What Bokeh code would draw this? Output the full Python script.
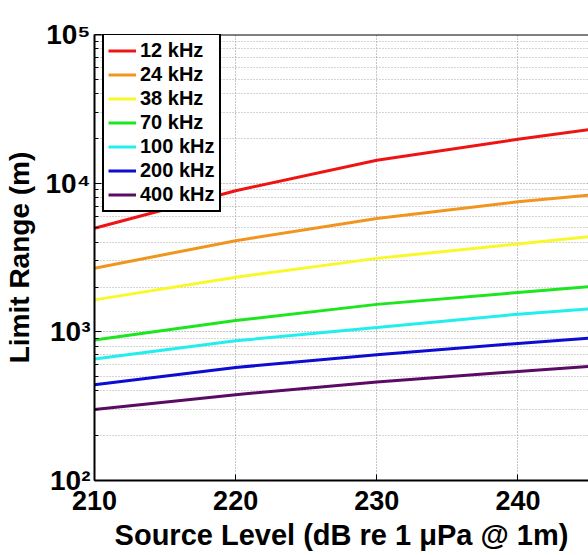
from bokeh.plotting import figure
from bokeh.models import FixedTicker, Legend, LegendItem, Span
from bokeh.embed import file_html
from bokeh.resources import INLINE

# ---- data ----
source_level = [210, 220, 230, 240, 245]
freq_labels = ["12 kHz", "24 kHz", "38 kHz", "70 kHz", "100 kHz", "200 kHz", "400 kHz"]
range_12k = [4970, 8900, 14260, 19720, 22900]
range_24k = [2680, 4100, 5790, 7490, 8310]
range_38k = [1640, 2330, 3120, 3900, 4360]
range_70k = [880, 1190, 1530, 1840, 2010]
range_100k = [656, 870, 1070, 1315, 1426]
range_200k = [441, 576, 701, 835, 907]
range_400k = [300, 378, 460, 541, 585]
series = [range_12k, range_24k, range_38k, range_70k, range_100k, range_200k, range_400k]
colors = ["#ee1414", "#f0961e", "#f8f82a", "#1ee61e", "#22eeee", "#0c0cd2", "#5a0c64"]

x_ticks = [210, 220, 230, 240]
y_ticks = [100, 1000, 10000, 100000]
y_tick_labels = ["10\u00b2", "10\u00b3", "10\u2074", "10\u2075"]
y_minor = [k * 10 ** e for e in (2, 3, 4) for k in range(2, 10)]

FONT = "Liberation Sans"

p = figure(width=588, height=553, x_range=(210, 245), y_range=(100, 1e5),
           y_axis_type="log", output_backend="svg", toolbar_location=None,
           min_border_left=92, min_border_right=0, min_border_top=34,
           min_border_bottom=72)
p.outline_line_color = None
p.background_fill_color = "white"

renderers = []
for vals, c in zip(series, colors):
    r = p.line(source_level, vals, line_color=c, line_width=3)
    renderers.append(r)

# x axis
xa = p.xaxis[0]
xa.ticker = FixedTicker(ticks=x_ticks)
xa.major_label_text_font = FONT
xa.major_label_text_font_style = "bold"
xa.major_label_text_font_size = "27px"
xa.major_label_text_color = "black"
xa.major_label_standoff = 10
xa.axis_label = "Source Level (dB re 1 \u03bcPa @ 1m)"
xa.axis_label_text_font = FONT
xa.axis_label_text_font_style = "bold"
xa.axis_label_text_font_size = "29px"
xa.axis_label_text_color = "black"
xa.axis_label_standoff = 6
xa.axis_line_width = 2
xa.major_tick_in = 6
xa.major_tick_out = 0
xa.minor_tick_line_color = None

# y axis
ya = p.yaxis[0]
ya.ticker = FixedTicker(ticks=y_ticks, minor_ticks=y_minor)
ya.major_label_overrides = {v: s for v, s in zip(y_ticks, y_tick_labels)}
ya.major_label_text_font = FONT
ya.major_label_text_font_style = "bold"
ya.major_label_text_font_size = "28px"
ya.major_label_text_color = "black"
ya.major_label_standoff = 4
ya.axis_label = "Limit Range (m)"
ya.axis_label_text_font = FONT
ya.axis_label_text_font_style = "bold"
ya.axis_label_text_font_size = "28px"
ya.axis_label_text_color = "black"
ya.axis_label_standoff = 8
ya.axis_line_width = 2
ya.major_tick_in = 7
ya.major_tick_out = 0
ya.minor_tick_in = 4
ya.minor_tick_out = 0

# top border of the box
p.add_layout(Span(location=1e5, dimension="width", line_color="black", line_width=2))

# grids
p.xgrid.ticker = FixedTicker(ticks=x_ticks)
p.xgrid.grid_line_color = "#8c8c8c"
p.xgrid.grid_line_dash = "1 2"
p.ygrid.grid_line_color = "#8c8c8c"
p.ygrid.grid_line_dash = "1 2"
p.ygrid.minor_grid_line_color = "#a8a8a8"
p.ygrid.minor_grid_line_dash = "1 2"

legend = Legend(items=[LegendItem(label=l, renderers=[r]) for l, r in zip(freq_labels, renderers)],
                location=(8, 268), margin=0, padding=4, spacing=1,
                glyph_width=28, glyph_height=23, label_height=23, label_standoff=4,
                label_text_font=FONT, label_text_font_style="bold",
                label_text_font_size="20px", label_text_color="black",
                border_line_color="black", border_line_width=2, border_line_alpha=1,
                background_fill_color="white", background_fill_alpha=1)
p.add_layout(legend)

open("out.html", "w").write(file_html(p, INLINE))
